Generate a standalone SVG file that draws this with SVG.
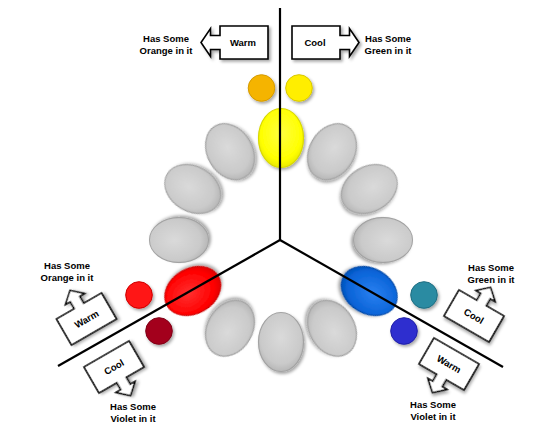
<svg xmlns="http://www.w3.org/2000/svg" width="555" height="435" viewBox="0 0 555 435">
<defs>
<style>
.lbl{font-family:"Liberation Sans",Arial,sans-serif;font-weight:bold;font-size:9.5px;fill:#000;text-anchor:middle}
.box{fill:#fff;stroke:#000;stroke-width:1.6;stroke-linejoin:miter}
.conn{stroke:#000;stroke-width:2.2;fill:none}
.gr{fill:url(#gGray);stroke:#a3a3a3;stroke-width:1.2}
</style>
<filter id="sh" x="-30%" y="-30%" width="160%" height="160%">
<feDropShadow dx="1.5" dy="2" stdDeviation="1.5" flood-color="#000" flood-opacity="0.35"/>
</filter>
<filter id="bs" x="-30%" y="-30%" width="160%" height="160%">
<feDropShadow dx="2" dy="2" stdDeviation="1.5" flood-color="#000" flood-opacity="0.35"/>
</filter>
<radialGradient id="gGray" cx="50%" cy="42%" r="60%">
<stop offset="0" stop-color="#dadada"/><stop offset="0.75" stop-color="#cacaca"/><stop offset="1" stop-color="#b4b4b4"/>
</radialGradient>
<radialGradient id="gYel" cx="50%" cy="42%" r="60%">
<stop offset="0" stop-color="#ffff40"/><stop offset="0.75" stop-color="#ffff00"/><stop offset="1" stop-color="#e6e600"/>
</radialGradient>
<radialGradient id="gRed" cx="50%" cy="42%" r="60%">
<stop offset="0" stop-color="#ff3030"/><stop offset="0.75" stop-color="#ff0000"/><stop offset="1" stop-color="#dd0000"/>
</radialGradient>
<radialGradient id="gBlue" cx="50%" cy="42%" r="60%">
<stop offset="0" stop-color="#2a80f0"/><stop offset="0.75" stop-color="#0a64d8"/><stop offset="1" stop-color="#0050b8"/>
</radialGradient>
<path id="upCall" d="M-26,-15 H-5.5 V-23 H-11 L0,-33 L11,-23 H5.5 V-15 H26 V15 H-26 Z"/>
<path id="dnCall" d="M-26,-15 H26 V15 H5.5 V23 H11 L0,33 L-11,23 H-5.5 V15 H-26 Z"/>
</defs>
<rect width="555" height="435" fill="#fff"/>

<g id="wheel">
<g id="e-yellow"><ellipse cx="281" cy="138" rx="22.5" ry="29.5" fill="url(#gYel)" stroke="#d8d800" stroke-width="1.2" filter="url(#sh)"/></g>
<g id="e-30"><ellipse class="gr" cx="332" cy="151.7" rx="22.5" ry="29.5" transform="rotate(30 332 151.7)" filter="url(#sh)"/></g>
<g id="e-60"><ellipse class="gr" cx="369.3" cy="189" rx="22.5" ry="29.5" transform="rotate(60 369.3 189)" filter="url(#sh)"/></g>
<g id="e-90"><ellipse class="gr" cx="383" cy="240" rx="22.5" ry="29.5" transform="rotate(90 383 240)" filter="url(#sh)"/></g>
<g id="e-blue"><ellipse cx="369.3" cy="291" rx="22.5" ry="29.5" transform="rotate(120 369.3 291)" fill="url(#gBlue)" stroke="#0048a8" stroke-width="1.2" filter="url(#sh)"/></g>
<g id="e-150"><ellipse class="gr" cx="332" cy="328.3" rx="22.5" ry="29.5" transform="rotate(150 332 328.3)" filter="url(#sh)"/></g>
<g id="e-180"><ellipse class="gr" cx="281" cy="342" rx="22.5" ry="29.5" filter="url(#sh)"/></g>
<g id="e-210"><ellipse class="gr" cx="230" cy="328.3" rx="22.5" ry="29.5" transform="rotate(210 230 328.3)" filter="url(#sh)"/></g>
<g id="e-red"><ellipse cx="192.7" cy="291" rx="22.5" ry="29.5" transform="rotate(240 192.7 291)" fill="url(#gRed)" stroke="#d00000" stroke-width="1.2" filter="url(#sh)"/></g>
<g id="e-270"><ellipse class="gr" cx="179" cy="240" rx="22.5" ry="29.5" transform="rotate(270 179 240)" filter="url(#sh)"/></g>
<g id="e-300"><ellipse class="gr" cx="192.7" cy="189" rx="22.5" ry="29.5" transform="rotate(300 192.7 189)" filter="url(#sh)"/></g>
<g id="e-330"><ellipse class="gr" cx="230" cy="151.7" rx="22.5" ry="29.5" transform="rotate(330 230 151.7)" filter="url(#sh)"/></g>
</g>

<g id="dots">
<g id="c-orange"><circle cx="261.5" cy="88" r="13.3" fill="#f5b400" stroke="#d49a00" stroke-width="1" filter="url(#sh)"/></g>
<g id="c-yellow"><circle cx="299" cy="88" r="13.3" fill="#ffee00" stroke="#d8c800" stroke-width="1" filter="url(#sh)"/></g>
<g id="c-red"><circle cx="139" cy="295" r="13.3" fill="#ff1414" stroke="#d00000" stroke-width="1" filter="url(#sh)"/></g>
<g id="c-darkred"><circle cx="159" cy="331" r="13.3" fill="#a3001e" stroke="#800018" stroke-width="1" filter="url(#sh)"/></g>
<g id="c-teal"><circle cx="424" cy="295" r="13.3" fill="#2b8ba2" stroke="#1f6e82" stroke-width="1" filter="url(#sh)"/></g>
<g id="c-violet"><circle cx="404" cy="331" r="13.3" fill="#2f2fcf" stroke="#2020a8" stroke-width="1" filter="url(#sh)"/></g>
</g>

<g id="connectors">
<line class="conn" x1="280" y1="8" x2="280" y2="240"/>
<line class="conn" x1="280" y1="240" x2="58" y2="366"/>
<line class="conn" x1="280" y1="240" x2="503" y2="367"/>
</g>

<g id="top-warm">
<path class="box" filter="url(#bs)" d="M268,26 V59 H220 V49.5 H210.5 V56.5 L201,42.5 L210.5,28.5 V35.5 H220 V26 Z"/>
<text class="lbl" x="243" y="46">Warm</text>
</g>
<g id="top-cool">
<path class="box" filter="url(#bs)" d="M292,26 V59 H340 V49.5 H349.5 V56.5 L359,42.5 L349.5,28.5 V35.5 H340 V26 Z"/>
<text class="lbl" x="315" y="46">Cool</text>
</g>
<g id="left-warm" transform="translate(86.5 319) rotate(-30)">
<use href="#upCall" class="box" filter="url(#bs)"/>
<text class="lbl" x="0" y="3.5">Warm</text>
</g>
<g id="left-cool" transform="translate(114 367) rotate(-30)">
<use href="#dnCall" class="box" filter="url(#bs)"/>
<text class="lbl" x="0" y="3.5">Cool</text>
</g>
<g id="right-cool" transform="translate(474 316) rotate(30)">
<use href="#upCall" class="box" filter="url(#bs)"/>
<text class="lbl" x="0" y="3.5">Cool</text>
</g>
<g id="right-warm" transform="translate(449 364) rotate(30)">
<use href="#dnCall" class="box" filter="url(#bs)"/>
<text class="lbl" x="0" y="3.5">Warm</text>
</g>

<g id="labels">
<text class="lbl" x="166" y="41.5">Has Some</text>
<text class="lbl" x="166" y="54">Orange in it</text>
<text class="lbl" x="388" y="41.5">Has Some</text>
<text class="lbl" x="388" y="54">Green in it</text>
<text class="lbl" x="67" y="268.5">Has Some</text>
<text class="lbl" x="67" y="280.5">Orange in it</text>
<text class="lbl" x="491" y="270.5">Has Some</text>
<text class="lbl" x="491" y="282.5">Green in it</text>
<text class="lbl" x="133" y="409.5">Has Some</text>
<text class="lbl" x="133" y="421.5">Violet in it</text>
<text class="lbl" x="433" y="407.5">Has Some</text>
<text class="lbl" x="433" y="419.5">Violet in it</text>
</g>
</svg>
